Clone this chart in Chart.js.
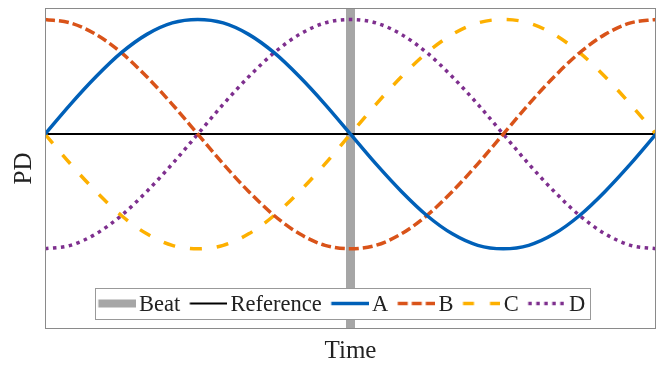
<!DOCTYPE html>
<html><head><meta charset="utf-8">
<script src="https://cdn.jsdelivr.net/npm/chart.js@4.4.1/dist/chart.umd.min.js"></script>
<style>html,body{margin:0;padding:0;background:#fff}#wrap{width:661px;height:365px}</style>
</head><body><div id="wrap"><canvas id="c" width="661" height="365"></canvas></div>
<script>
// ---- data ----
const time    = [0,1,2,3,4,5,6,7,8,9,10,11,12,13,14,15,16,17,18,19,20,21,22,23,24];
const seriesA = [0,0.26,0.5,0.71,0.87,0.97,1,0.97,0.87,0.71,0.5,0.26,0,-0.26,-0.5,-0.71,-0.87,-0.97,-1,-0.97,-0.87,-0.71,-0.5,-0.26,0];
const seriesB = [1,0.97,0.87,0.71,0.5,0.26,0,-0.26,-0.5,-0.71,-0.87,-0.97,-1,-0.97,-0.87,-0.71,-0.5,-0.26,0,0.26,0.5,0.71,0.87,0.97,1];
const seriesC = [0,-0.26,-0.5,-0.71,-0.87,-0.97,-1,-0.97,-0.87,-0.71,-0.5,-0.26,0,0.26,0.5,0.71,0.87,0.97,1,0.97,0.87,0.71,0.5,0.26,0];
const seriesD = [-1,-0.97,-0.87,-0.71,-0.5,-0.26,0,0.26,0.5,0.71,0.87,0.97,1,0.97,0.87,0.71,0.5,0.26,0,-0.26,-0.5,-0.71,-0.87,-0.97,-1];
const beatTime  = [12, 12];
const beatLevel = [-1.7, 1.1];
const refTime   = [0, 24];
const refLevel  = [0, 0];
const seriesNames = ['Beat','Reference','A','B','C','D'];
const xRange = [0, 24];
const yRange = [-1.7, 1.1];
const xTitle = 'Time';
const yTitle = 'PD';

// ---- styling ----
const FONT = '"Liberation Serif", "Times New Roman", serif';
const TXT = '#222';
const colors = ['#a6a6a6', '#000000', '#0060b8', '#d95319', '#fdb000', '#7e2f8e'];
const widths = [9, 2, 3.5, 3.5, 3.5, 3.5];
const dashes = [[], [], [], [10, 4], [12, 15], [3.5, 4.5]];
const legendDash = [[], [], [], [10, 4], [11, 16], [3.5, 4.5]];

function sample(i) {
  const c = document.createElement('canvas');
  c.width = 54; c.height = 14;
  const g = c.getContext('2d');
  g.strokeStyle = colors[i];
  g.lineWidth = i === 0 ? 8 : widths[i];
  g.setLineDash(legendDash[i]);
  g.beginPath(); g.moveTo(16.5, 5.5); g.lineTo(54, 5.5); g.stroke();
  return c;
}
const pts = (xs, ys) => xs.map((x, i) => ({x, y: ys[i]}));
const seriesData = [pts(beatTime, beatLevel), pts(refTime, refLevel), pts(time, seriesA), pts(time, seriesB), pts(time, seriesC), pts(time, seriesD)];
const orders = [10, 5, 0, 1, 2, 3];

const datasets = seriesNames.map((name, i) => ({
  label: name,
  data: seriesData[i],
  borderColor: colors[i],
  backgroundColor: colors[i],
  borderWidth: widths[i],
  borderDash: dashes[i],
  borderCapStyle: 'butt',
  pointRadius: 0,
  pointHoverRadius: 0,
  pointStyle: sample(i),
  fill: false,
  cubicInterpolationMode: i >= 2 ? 'monotone' : 'default',
  order: orders[i]
}));

const framePlugin = {
  id: 'frame',
  afterLayout(chart) {
    const a = chart.chartArea, lg = chart.legend;
    lg.left = a.left + 43.8; lg.right = chart.width; lg.width = lg.right - lg.left;
    lg.top = a.bottom - 36.25; lg.bottom = lg.top + 32; lg.height = 32;
  },
  afterDraw(chart) {
    const {ctx, chartArea: a, legend: lg} = chart;
    ctx.save();
    ctx.strokeStyle = '#8a8a8a'; ctx.lineWidth = 1;
    ctx.strokeRect(a.left + 0.5, a.top + 0.5, a.right - a.left - 1, a.bottom - a.top - 1);
    const hb = lg.legendHitBoxes;
    const x0 = Math.round(hb[0].left + 5.2) + 0.5;
    const last = hb[hb.length - 1];
    const x1 = Math.round(last.left + last.width + 5) + 0.5;
    const y0 = Math.round(a.bottom - 41) + 0.5, y1 = Math.round(a.bottom - 10) + 0.5;
    ctx.fillStyle = '#fff';
    ctx.fillRect(x0, y0, x1 - x0, y1 - y0);
    ctx.strokeStyle = '#999';
    ctx.strokeRect(x0, y0, x1 - x0, y1 - y0);
    ctx.restore();
    lg.draw();
  }
};

new Chart(document.getElementById('c'), {
  type: 'line',
  data: {datasets},
  plugins: [framePlugin],
  options: {
    responsive: false,
    animation: false,
    devicePixelRatio: 1,
    events: [],
    layout: {padding: {top: 8, right: 5, left: 0, bottom: 0}},
    plugins: {
      tooltip: {enabled: false},
      legend: {
        position: 'top',
        align: 'start',
        maxHeight: 0.01,
        labels: {
          usePointStyle: true,
          pointStyleWidth: 38,
          padding: 1,
          color: TXT,
          font: {family: FONT, size: 22.5},
          sort: (a, b) => a.datasetIndex - b.datasetIndex
        }
      }
    },
    scales: {
      x: {
        type: 'linear', min: xRange[0], max: xRange[1],
        ticks: {display: false},
        grid: {display: false, drawTicks: false},
        border: {display: false},
        title: {display: true, text: xTitle, color: TXT, font: {family: FONT, size: 25, lineHeight: 1}, padding: {top: 0, bottom: 1}},
        afterFit(s) { s.height = 36; }
      },
      y: {
        type: 'linear', min: yRange[0], max: yRange[1],
        ticks: {display: false},
        grid: {display: false, drawTicks: false},
        border: {display: false},
        title: {display: true, text: yTitle, color: TXT, font: {family: FONT, size: 25, lineHeight: 1}, padding: {top: 12, bottom: 0}},
        afterFit(s) { s.width = 45; }
      }
    }
  }
});
</script>
</body></html>
